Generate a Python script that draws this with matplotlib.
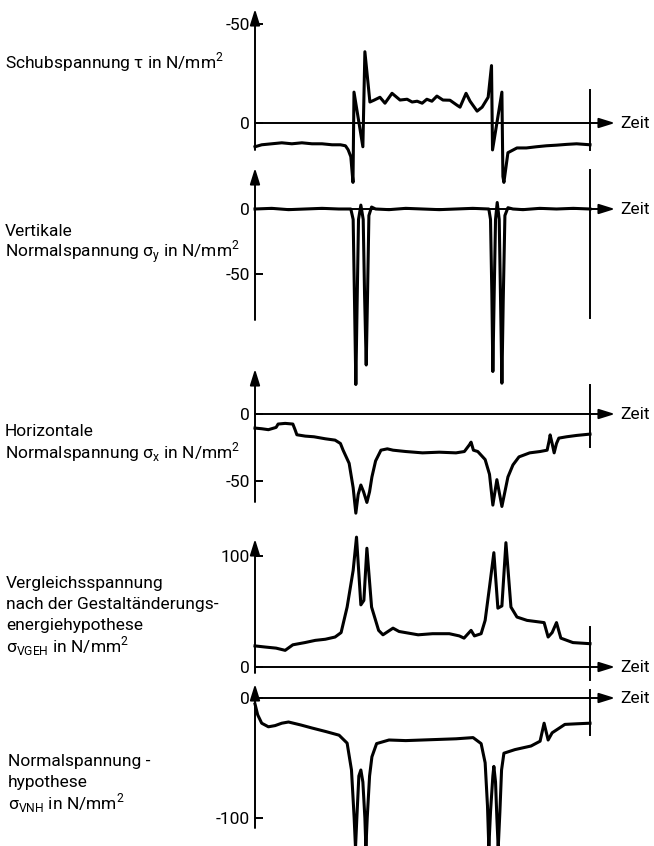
import matplotlib
matplotlib.use("Agg")
import matplotlib.pyplot as plt

plt.rcParams['font.family'] = ['Roboto', 'DejaVu Sans']
plt.rcParams['mathtext.fontset'] = 'custom'
plt.rcParams['mathtext.rm'] = 'Roboto'

# Zeit (beliebige Einheit, 0..100 = Messfenster)
tau_t = [0, 2, 5, 8, 11, 14, 17, 20, 23, 25.5, 27, 27.8, 28.6, 29.25, 29.55, 32.2, 32.8, 34.3, 35.5,
         37.3, 38.8, 40.9, 43.3, 45.4, 46.9, 48.4, 49.9, 51.3, 52.8, 54.3, 56.1, 58.2, 60.3, 61.2,
         63.0, 64.2, 66.3, 67.8, 69.6, 70.6, 70.9, 73.7, 74.0, 74.3, 75.5, 78.2, 81, 84, 87, 90, 93, 96, 100]
tau_v = [12, 11, 10.5, 10, 10.5, 10, 10.5, 10.5, 11, 11, 11.5, 13.5, 17, 30, -15.6, 12, -36, -10.6, -11.5,
         -13, -10, -15, -11.6, -12, -10.6, -11, -10, -12, -11, -13.6, -11.6, -11.5, -9, -8,
         -15, -11, -6, -8, -13, -29, 13.6, -15.6, 27, 30, 15, 12.6, 12.6, 12, 11.5, 11.2, 10.8, 10.5, 11]

sy_t = [0, 5, 10, 15, 20, 25, 28.6, 29.3, 29.7, 30.1, 30.5, 30.9, 31.6, 32.3, 32.7, 33.2, 33.6, 34.0,
        34.8, 36, 40, 45, 50, 55, 60, 65, 69.8, 70.3, 70.7, 71.0, 71.4, 71.8, 72.3, 72.9, 73.3, 73.7,
        74.1, 74.6, 75.5, 77, 80, 85, 90, 95, 100]
sy_v = [0, 0.5, -0.5, 0, 0.5, 0, 0, -8, -70, -135, -70, -8, 3, -8, -65, -120, -65, -5,
        1.5, 0, -0.5, 0.5, 0, -0.5, 0, 0.5, 0, -8, -65, -125, -65, -8, 5, -8, -70, -134,
        -70, -5, 1, 0, -0.5, 0.5, 0, 0.5, 0]

sx_t = [0, 2, 4, 6.3, 6.9, 9, 11.3, 12.0, 12.5, 15, 17.6, 21, 23.9, 25.5, 26.3, 28.1, 29.3, 30.1,
        30.8, 31.6, 32.4, 33.4, 34.2, 34.9, 36, 37.6, 39.5, 41.2, 45, 50, 55, 60, 62.5, 64.0, 64.5,
        65.2, 66.5, 68.7, 70, 71.0, 72.2, 73.7, 75.5, 77, 78.8, 82, 85.1, 87.2, 87.8, 88.1, 88.7,
        89.3, 90.0, 90.7, 93, 96, 100]
sx_v = [-10.5, -11, -11.7, -10, -7.5, -7, -7.5, -12, -15.5, -16.5, -17, -18.5, -19.5, -22, -27, -36.8, -55, -74,
        -60, -53, -58, -66, -58, -47, -35, -27, -26, -27, -28, -29, -28.5, -29, -28, -23, -21,
        -27, -28, -34, -45, -68, -49, -69, -47, -38, -32, -29, -28, -27, -20, -15.6, -22,
        -29, -22, -18, -17, -16, -15]

sv_t = [0, 3, 6.3, 9, 11.3, 14.9, 18, 21, 23.9, 25.7, 27.5, 29.3, 30.3, 31.6, 32.5, 33.4, 34.8, 36.9,
        38.2, 41.2, 43, 48.7, 53, 58, 61, 62.4, 64.5, 65.5, 67.5, 68.7, 70, 71.3, 72.5, 73.7, 74.9,
        76.4, 78.2, 81.2, 86.3, 87.5, 88.7, 90.0, 91.3, 94.9, 100]
sv_v = [19, 18, 17, 15, 20, 22, 24, 25, 27, 31, 54, 87, 117, 56, 60, 107, 54, 33,
        29, 35, 32, 29, 30, 30, 28, 26, 33, 28, 30, 42, 72, 103, 53, 55, 112,
        54, 45, 42, 40, 27, 31, 40, 26, 22, 21]

sn_t = [0, 0.8, 2, 4, 6, 8, 10, 13.7, 17, 21.2, 25.1, 27.5, 28.8, 29.6, 30.0, 30.4, 31.0, 31.6, 32.2,
        32.8, 33.1, 33.5, 34.2, 34.9, 36.3, 40, 45, 50, 55, 60, 65.1, 67.5, 68.7, 69.4, 69.8, 70.3,
        71.0, 71.3, 71.8, 72.2, 72.6, 73.1, 73.6, 74.3, 77.6, 82.4, 85.1, 86.3, 87.5, 88.7, 92.5, 96, 100]
sn_v = [-5, -14, -21, -24, -23, -21, -20, -22.5, -25, -28, -31, -37.6, -60, -100, -125, -100, -65, -60, -70,
        -100, -125, -100, -65, -49, -38, -35, -35.5, -35, -34.5, -34, -33, -38, -54, -90, -125, -95,
        -65, -57, -70, -100, -125, -95, -60, -46, -43, -40, -36, -21, -35, -29, -22, -21.5, -21]

W, H = 654, 846
fig = plt.figure(figsize=(W / 100, H / 100), dpi=100)

FS = 12.5
X0, X1, XARROW = 255, 590, 615


def panel(t, v, y0, k, sign, tip, bot, ticks, ticklabels, rline):
    # y0: Pixelzeile der Nulllinie, k: Pixel je N/mm2, sign=-1 -> Achse nach oben negativ
    def val(y):
        return sign * (y0 - y) / k

    ax = fig.add_axes([X0 / W, 1 - bot / H, (X1 - X0) / W, (bot - tip) / H])
    ax.patch.set_alpha(0)
    for s in ax.spines.values():
        s.set_visible(False)
    ax.set_xlim(0, 100)
    ax.set_ylim(val(bot), val(tip))
    ax.set_xticks([])
    ax.set_yticks(ticks)
    ax.set_yticklabels(ticklabels)
    ax.tick_params(axis='y', direction='in', length=6, width=1.4, pad=3.5, labelsize=FS)

    arrow = dict(arrowstyle='-|>,head_length=0.8,head_width=0.25', lw=1.4, color='k',
                 shrinkA=0, shrinkB=0, mutation_scale=12)
    ax.annotate('', xy=(0, val(tip)), xytext=(0, val(bot)), arrowprops=arrow, annotation_clip=False)
    tx = (XARROW - X0) / (X1 - X0) * 100
    ax.annotate('', xy=(tx, 0), xytext=(0, 0), arrowprops=arrow, annotation_clip=False)
    ax.text(tx + 1.5, 0, 'Zeit', va='center', ha='left', fontsize=FS, clip_on=False)
    ax.plot([100, 100], [val(rline[0]), val(rline[1])], color='k', lw=1.4, clip_on=False)
    ax.plot(t, v, color='k', lw=2.2, clip_on=False, solid_joinstyle='round')
    return ax


panel(tau_t, tau_v, 123, 1.98, -1, 9, 150, [-50, 0], ['-50', '0'], (90, 150))
panel(sy_t, sy_v, 209, 1.3, 1, 168, 320, [0, -50], ['0', '-50'], (170, 318))
panel(sx_t, sx_v, 414, 1.34, 1, 369, 502, [0, -50], ['0', '-50'], (385, 447))
panel(sv_t, sv_v, 667, 1.11, 1, 539, 673, [100, 0], ['100', '0'], (627, 680))
panel(sn_t, sn_v, 698, 1.2, 1, 684, 828, [0, -100], ['0', '-100'], (690, 735))


def label(x, y, s):
    fig.text(x / W, 1 - y / H, s, ha='left', va='baseline', fontsize=FS)


label(5, 68, 'Schubspannung τ in N/mm$^\\mathregular{2}$')
label(5, 236, 'Vertikale')
label(5, 257, 'Normalspannung σ$_\\mathregular{y}$ in N/mm$^\\mathregular{2}$')
label(5, 436, 'Horizontale')
label(5, 458, 'Normalspannung σ$_\\mathregular{x}$ in N/mm$^\\mathregular{2}$')
label(6, 588, 'Vergleichsspannung')
label(6, 609, 'nach der Gestaltänderungs-')
label(6, 630, 'energiehypothese')
label(6, 652, 'σ$_\\mathregular{VGEH}$ in N/mm$^\\mathregular{2}$')
label(8, 766, 'Normalspannung -')
label(8, 787, 'hypothese')
label(8, 809, 'σ$_\\mathregular{VNH}$ in N/mm$^\\mathregular{2}$')

fig.savefig('out.png', dpi=100)
